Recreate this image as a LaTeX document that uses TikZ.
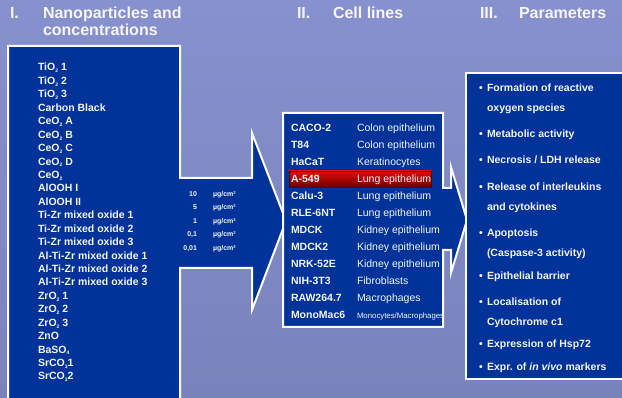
\documentclass[tikz,border=0pt]{standalone}
\usepackage{fontspec}
\setmainfont{Liberation Sans}
\definecolor{bgtop}{RGB}{134,145,205}
\definecolor{bgbot}{RGB}{122,130,188}
\definecolor{boxblue}{RGB}{0,51,153}
\definecolor{txt}{RGB}{245,245,250}
\definecolor{redtop}{RGB}{230,10,10}
\definecolor{redbot}{RGB}{110,0,0}
\newcommand\subsm[1]{\raisebox{-0.35ex}{\fontsize{5}{5}\selectfont #1}}
\tikzset{
  panel/.style={fill=boxblue, draw=white, line width=2pt, line join=miter},
  head/.style={inner sep=0pt, outer sep=0pt, anchor=base west, text=txt, font=\fontsize{16}{16}\selectfont\bfseries},
  item/.style={inner sep=0pt, outer sep=0pt, anchor=base west, text=txt, font=\fontsize{10.5}{10.5}\selectfont\bfseries},
  desc/.style={inner sep=0pt, outer sep=0pt, anchor=base west, text=txt, font=\fontsize{10.5}{10.5}\selectfont},
  conc/.style={inner sep=0pt, outer sep=0pt, anchor=base east, text=txt, font=\fontsize{7}{7}\selectfont\bfseries},
  unit/.style={inner sep=0pt, outer sep=0pt, anchor=base west, text=txt, font=\fontsize{7}{7}\selectfont\bfseries},
}
\begin{document}
\begin{tikzpicture}[x=1pt,y=-1pt]
\useasboundingbox (0,0) rectangle (622,398);
\clip (0,0) rectangle (622,398);
\shade[top color=bgtop, bottom color=bgbot] (0,0) rectangle (622,398);

% headers
\node[head] (h1n) at (10,19) {I.};
\node[head] (h1a) at (43,19) {Nanoparticles and};
\node[head] (h1b) at (43,36) {concentrations};
\node[head] (h2n) at (297,19) {II.};
\node[head] (h2a) at (333,19) {Cell lines};
\node[head] (h3n) at (480,19) {III.};
\node[head] (h3a) at (519,19) {Parameters};

% panel I with arrow
\draw[panel] (8,46) -- (180,46) -- (180,178) -- (252,178) -- (252,133) -- (286,221)
  -- (252,310) -- (252,268) -- (180,268) -- (180,405) -- (8,405) -- cycle;

% panel II with arrow
\draw[panel] (283,113) -- (443,113) -- (443,188) -- (451,188) -- (451,167) -- (467,220)
  -- (451,273) -- (451,250) -- (443,250) -- (443,327) -- (283,327) -- cycle;

% panel III
\draw[panel] (466,73) -- (630,73) -- (630,379) -- (466,379) -- cycle;

% nanoparticles list
\foreach \t [count=\i from 0] in {
  TiO\subsm{2} 1, TiO\subsm{2} 2, TiO\subsm{2} 3, Carbon Black,
  CeO\subsm{2} A, CeO\subsm{2} B, CeO\subsm{2} C, CeO\subsm{2} D, CeO\subsm{2},
  AlOOH I, AlOOH II,
  Ti-Zr mixed oxide 1, Ti-Zr mixed oxide 2, Ti-Zr mixed oxide 3,
  Al-Ti-Zr mixed oxide 1, Al-Ti-Zr mixed oxide 2, Al-Ti-Zr mixed oxide 3,
  ZrO\subsm{2} 1, ZrO\subsm{2} 2, ZrO\subsm{2} 3, ZnO, BaSO\subsm{4},
  SrCO\subsm{3}1, SrCO\subsm{3}2}
  \node[item] (np\i) at (38,{71+13.43*\i}) {\t};

% concentrations
\foreach \c [count=\i from 0] in {10,5,1,{0,1},{0,01}} {
  \node[conc] (c\i) at (197,{196.5+13.5*\i}) {\c};
  \node[unit] (u\i) at (213,{196.5+13.5*\i}) {µg/cm²};
}

% highlight bar
\shade[top color=redtop, bottom color=redbot, draw=black!70!red, line width=0.6pt] (289,171) rectangle (431,187);

% cell lines
\foreach \n/\d [count=\i from 0] in {
  CACO-2/Colon epithelium, T84/Colon epithelium, HaCaT/Keratinocytes,
  A-549/Lung epithelium, Calu-3/Lung epithelium, RLE-6NT/Lung epithelium,
  MDCK/Kidney epithelium, MDCK2/Kidney epithelium, NRK-52E/Kidney epithelium,
  NIH-3T3/Fibroblasts, RAW264.7/Macrophages} {
  \node[item] (cl\i) at (291,{132+17*\i}) {\n};
  \node[desc] (cd\i) at (357,{132+17*\i}) {\d};
}
\node[item] (cl11) at (291,319) {MonoMac6};
\node[desc, font=\fontsize{7.8}{7.8}\selectfont] (cd11) at (357,319) {Monocytes/Macrophages};

% parameters
\foreach \y/\t [count=\i] in {92/Formation of reactive, 138/Metabolic activity, 164/{Necrosis / LDH release},
  191/Release of interleukins, 237/Apoptosis, 280/Epithelial barrier, 306/Localisation of,
  348/Expression of Hsp72} {
  \node[item] (b\i) at (479,\y) {•};
  \node[item] (p\i) at (487,\y) {\t};
}
\node[item] (p1b) at (487,112) {oxygen species};
\node[item] (p4b) at (487,211) {and cytokines};
\node[item] (p5b) at (487,257) {(Caspase-3 activity)};
\node[item] (p7b) at (487,326) {Cytochrome c1};
\node[item] (b9) at (479,371) {•};
\node[item] (p9) at (487,371) {Expr. of \textit{in vivo} markers};
\end{tikzpicture}
\end{document}
